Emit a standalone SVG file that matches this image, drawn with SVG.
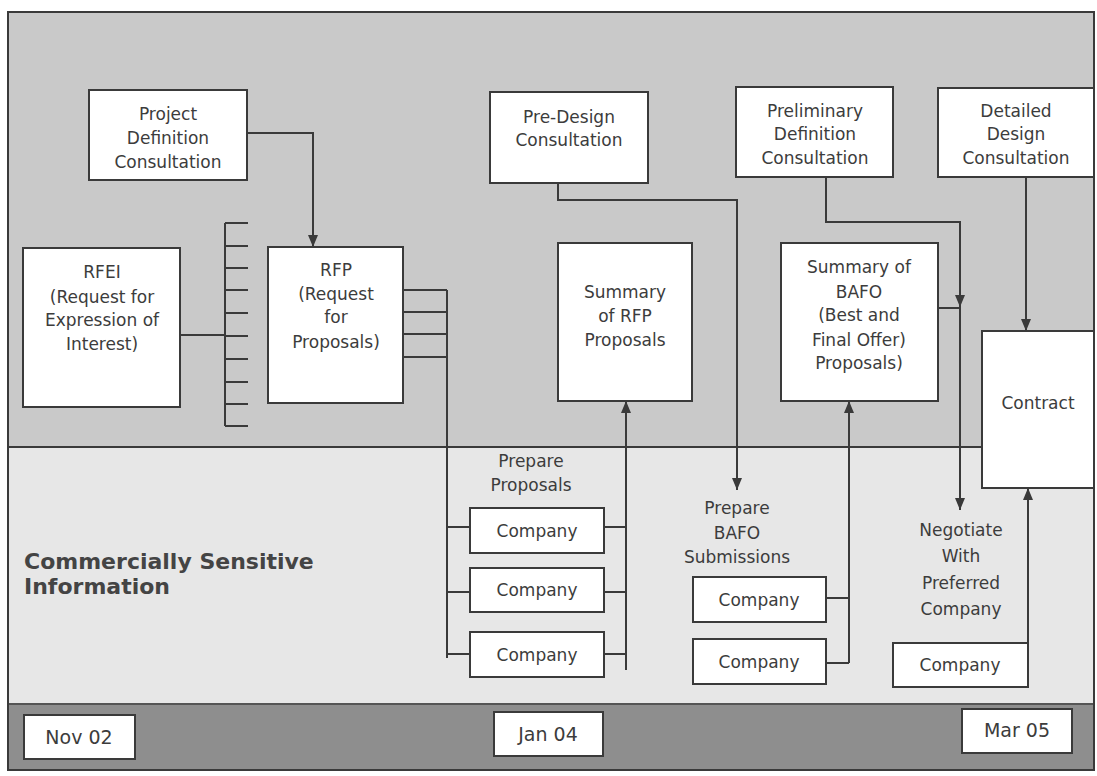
<svg xmlns="http://www.w3.org/2000/svg" width="1097" height="776" viewBox="0 0 1097 776">
  <defs>
    <marker id="arrow" viewBox="0 0 12 10" refX="12" refY="5" markerWidth="12" markerHeight="10" markerUnits="userSpaceOnUse" orient="auto">
      <path d="M0,0 L12,5 L0,10 Z" fill="#3a3a3a"/>
    </marker>
    <style>
      .box { fill: #ffffff; stroke: #3a3a3a; stroke-width: 2; }
      .lbl { font-family: "DejaVu Sans", Verdana, sans-serif; font-size: 17px; fill: #3c3c3c; text-anchor: middle; }
      .date { font-family: "DejaVu Sans", Verdana, sans-serif; font-size: 19px; fill: #3c3c3c; text-anchor: middle; }
      .note { font-family: "DejaVu Sans", Verdana, sans-serif; font-size: 22px; font-weight: bold; fill: #444444; }
      .wire { fill: none; stroke: #3a3a3a; stroke-width: 2; }
      .arr { fill: none; stroke: #3a3a3a; stroke-width: 2; }
    </style>
  </defs>

  <!-- background bands -->
  <rect x="0" y="0" width="1097" height="776" fill="#ffffff"/>
  <rect x="8" y="12" width="1086" height="435" fill="#c9c9c9"/>
  <rect x="8" y="447" width="1086" height="257" fill="#e7e7e7"/>
  <rect x="8" y="704" width="1086" height="66" fill="#8e8e8e"/>
  <line x1="8" y1="447" x2="1094" y2="447" stroke="#3a3a3a" stroke-width="2"/>
  <line x1="8" y1="704" x2="1094" y2="704" stroke="#555555" stroke-width="2"/>
  <rect x="8" y="12" width="1086" height="758" fill="none" stroke="#3a3a3a" stroke-width="2"/>

  <!-- connectors -->
  <g id="connectors">
    <!-- RFEI fan-out comb -->
    <path class="wire" d="M180,335 H225 M225,223 V426
      M225,223 H248 M225,246 H248 M225,268 H248 M225,290 H248 M225,313 H248
      M225,336 H248 M225,359 H248 M225,382 H248 M225,404 H248 M225,426 H248"/>
    <!-- Project Definition to RFP -->
    <path class="arr" d="M247,133 H313 V247" marker-end="url(#arrow)"/>
    <!-- RFP out to companies -->
    <path class="wire" d="M403,290 H447 M403,312 H447 M403,334 H447 M403,357 H447 M447,290 V658
      M447,527 H470 M447,592 H470 M447,654 H470"/>
    <!-- companies back to Summary of RFP -->
    <path class="wire" d="M604,527 H626 M604,592 H626 M604,654 H626 M626,670 V412"/>
    <path class="arr" d="M626,420 V401" marker-end="url(#arrow)"/>
    <!-- Pre-Design to Prepare BAFO -->
    <path class="arr" d="M558,183 V200 H737 V490" marker-end="url(#arrow)"/>
    <!-- BAFO companies to Summary of BAFO -->
    <path class="wire" d="M826,598 H849 M826,663 H849 M849,663 V412"/>
    <path class="arr" d="M849,420 V401" marker-end="url(#arrow)"/>
    <!-- Preliminary Definition and Summary of BAFO to Negotiate -->
    <path class="arr" d="M826,177 V222 H960 V307" marker-end="url(#arrow)"/>
    <path class="wire" d="M938,308 H960"/>
    <path class="arr" d="M960,307 V510" marker-end="url(#arrow)"/>
    <!-- Detailed Design to Contract -->
    <path class="arr" d="M1026,177 V331" marker-end="url(#arrow)"/>
    <!-- preferred company to Contract -->
    <path class="arr" d="M1028,643 V488" marker-end="url(#arrow)"/>
  </g>

  <g id="project-definition">
    <rect class="box" x="89" y="90" width="158" height="90"/>
    <text class="lbl" x="168" y="120">Project</text>
    <text class="lbl" x="168" y="144">Definition</text>
    <text class="lbl" x="168" y="168">Consultation</text>
  </g>

  <g id="rfei">
    <rect class="box" x="23" y="248" width="157" height="159"/>
    <text class="lbl" x="102" y="278">RFEI</text>
    <text class="lbl" x="102" y="303">(Request for</text>
    <text class="lbl" x="102" y="326">Expression of</text>
    <text class="lbl" x="102" y="350">Interest)</text>
  </g>

  <g id="rfp">
    <rect class="box" x="268" y="247" width="135" height="156"/>
    <text class="lbl" x="336" y="276">RFP</text>
    <text class="lbl" x="336" y="300">(Request</text>
    <text class="lbl" x="336" y="323">for</text>
    <text class="lbl" x="336" y="348">Proposals)</text>
  </g>

  <g id="pre-design">
    <rect class="box" x="490" y="92" width="158" height="91"/>
    <text class="lbl" x="569" y="123">Pre-Design</text>
    <text class="lbl" x="569" y="146">Consultation</text>
  </g>

  <g id="summary-rfp">
    <rect class="box" x="558" y="243" width="134" height="158"/>
    <text class="lbl" x="625" y="298">Summary</text>
    <text class="lbl" x="625" y="322">of RFP</text>
    <text class="lbl" x="625" y="346">Proposals</text>
  </g>

  <g id="preliminary-definition">
    <rect class="box" x="736" y="87" width="157" height="90"/>
    <text class="lbl" x="815" y="117">Preliminary</text>
    <text class="lbl" x="815" y="140">Definition</text>
    <text class="lbl" x="815" y="164">Consultation</text>
  </g>

  <g id="detailed-design">
    <rect class="box" x="938" y="88" width="156" height="89"/>
    <text class="lbl" x="1016" y="117">Detailed</text>
    <text class="lbl" x="1016" y="140">Design</text>
    <text class="lbl" x="1016" y="164">Consultation</text>
  </g>

  <g id="summary-bafo">
    <rect class="box" x="781" y="243" width="157" height="158"/>
    <text class="lbl" x="859" y="273">Summary of</text>
    <text class="lbl" x="859" y="298">BAFO</text>
    <text class="lbl" x="859" y="321">(Best and</text>
    <text class="lbl" x="859" y="346">Final Offer)</text>
    <text class="lbl" x="859" y="369">Proposals)</text>
  </g>

  <g id="contract">
    <rect class="box" x="982" y="331" width="112" height="157"/>
    <text class="lbl" x="1038" y="409">Contract</text>
  </g>

  <g id="prepare-proposals">
    <text class="lbl" x="531" y="467">Prepare</text>
    <text class="lbl" x="531" y="491">Proposals</text>
    <rect class="box" x="470" y="508" width="134" height="45"/>
    <text class="lbl" x="537" y="537">Company</text>
    <rect class="box" x="470" y="568" width="134" height="44"/>
    <text class="lbl" x="537" y="596">Company</text>
    <rect class="box" x="470" y="632" width="134" height="45"/>
    <text class="lbl" x="537" y="661">Company</text>
  </g>

  <g id="prepare-bafo">
    <text class="lbl" x="737" y="514">Prepare</text>
    <text class="lbl" x="737" y="539">BAFO</text>
    <text class="lbl" x="737" y="563">Submissions</text>
    <rect class="box" x="693" y="577" width="133" height="45"/>
    <text class="lbl" x="759" y="606">Company</text>
    <rect class="box" x="693" y="639" width="133" height="45"/>
    <text class="lbl" x="759" y="668">Company</text>
  </g>

  <g id="negotiate">
    <text class="lbl" x="961" y="536">Negotiate</text>
    <text class="lbl" x="961" y="562">With</text>
    <text class="lbl" x="961" y="589">Preferred</text>
    <text class="lbl" x="961" y="615">Company</text>
    <rect class="box" x="893" y="643" width="135" height="44"/>
    <text class="lbl" x="960" y="671">Company</text>
  </g>

  <g id="sensitive-note">
    <text class="note" x="24" y="569">Commercially Sensitive</text>
    <text class="note" x="24" y="594">Information</text>
  </g>

  <g id="timeline">
    <rect class="box" x="24" y="715" width="111" height="44" stroke-width="1"/>
    <text class="date" x="79" y="744">Nov 02</text>
    <rect class="box" x="494" y="712" width="109" height="44" stroke-width="1"/>
    <text class="date" x="548" y="741">Jan 04</text>
    <rect class="box" x="962" y="709" width="110" height="44" stroke-width="1"/>
    <text class="date" x="1017" y="737">Mar 05</text>
  </g>
</svg>
